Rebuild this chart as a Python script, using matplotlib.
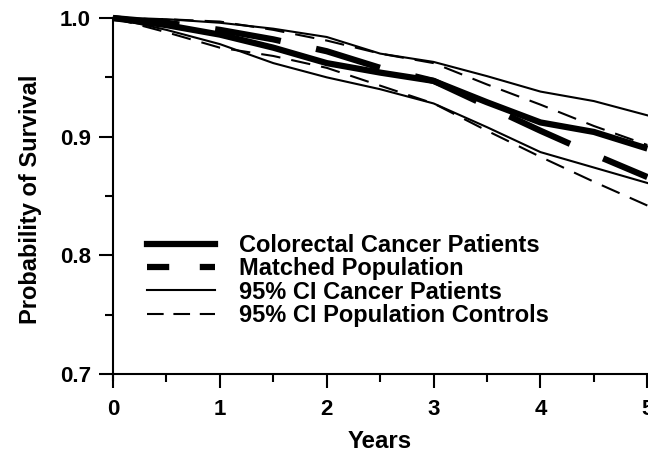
import matplotlib
matplotlib.use("Agg")
import matplotlib.pyplot as plt
from matplotlib.lines import Line2D
from matplotlib.ticker import MultipleLocator

plt.rcParams['font.family'] = ['Liberation Sans', 'DejaVu Sans']
plt.rcParams['font.weight'] = 'bold'
plt.rcParams['lines.scale_dashes'] = False

years = [0, 0.5, 1, 1.5, 2, 2.5, 3, 3.5, 4, 4.5, 5]
cancer = [1.0, 0.994, 0.986, 0.975, 0.962, 0.954, 0.947, 0.929, 0.912, 0.904, 0.890]
matched = [1.0, 0.996, 0.990, 0.982, 0.972, 0.958, 0.947, 0.926, 0.905, 0.885, 0.866]
ci_cancer_upper = [1.0, 0.999, 0.996, 0.991, 0.984, 0.970, 0.963, 0.951, 0.938, 0.930, 0.918]
ci_cancer_lower = [1.0, 0.990, 0.978, 0.962, 0.950, 0.940, 0.928, 0.908, 0.887, 0.874, 0.861]
ci_pop_upper = [1.0, 0.999, 0.997, 0.990, 0.981, 0.970, 0.962, 0.944, 0.927, 0.909, 0.893]
ci_pop_lower = [1.0, 0.988, 0.975, 0.968, 0.958, 0.943, 0.928, 0.905, 0.883, 0.862, 0.842]

labels = ["Colorectal Cancer Patients", "Matched Population",
          "95% CI Cancer Patients", "95% CI Population Controls"]

fig = plt.figure(figsize=(6.48, 4.57), dpi=100)
ax = fig.add_axes([0.1744, 0.1685, 0.8246, 0.7921])

thick = 4.5
thin = 1.5
ax.plot(years, ci_cancer_upper, color='black', lw=thin, clip_on=False)
ax.plot(years, ci_cancer_lower, color='black', lw=thin, clip_on=False)
ax.plot(years, ci_pop_upper, color='black', lw=thin, dashes=(14, 8), clip_on=False)
ax.plot(years, ci_pop_lower, color='black', lw=thin, dashes=(14, 8), clip_on=False)
ax.plot(years, cancer, color='black', lw=thick, clip_on=False, solid_capstyle='butt')
ax.plot(years, matched, color='black', lw=thick, dashes=(48, 26), clip_on=False,
        dash_capstyle='butt')

handles = [
    Line2D([], [], color='black', lw=thick),
    Line2D([], [], color='black', lw=thick, dashes=(16, 22), dash_capstyle='butt'),
    Line2D([], [], color='black', lw=thin),
    Line2D([], [], color='black', lw=thin, dashes=(12, 7)),
]
ax.legend(handles, labels, loc='upper left', bbox_to_anchor=(0.045, 0.43),
          frameon=False, fontsize=17.0, handlelength=2.9, handletextpad=1.0,
          labelspacing=0.02, borderaxespad=0)

ax.set_xlim(0, 5)
ax.set_ylim(0.695, 1.0)
ax.spines['bottom'].set_position(('data', 0.7))
ax.spines['top'].set_visible(False)
ax.spines['right'].set_visible(False)
for s in ('left', 'bottom'):
    ax.spines[s].set_linewidth(1.5)

ax.xaxis.set_major_locator(MultipleLocator(1))
ax.xaxis.set_minor_locator(MultipleLocator(0.5))
ax.set_yticks([0.7, 0.8, 0.9, 1.0])
ax.set_yticklabels(["0.7", "0.8", "0.9", "1.0"])
ax.yaxis.set_minor_locator(MultipleLocator(0.05))
ax.tick_params(which='major', direction='out', length=10, width=1.5, labelsize=16, pad=6)
ax.tick_params(axis='x', which='major', pad=8)
ax.tick_params(which='minor', direction='out', length=6, width=1.5)

ax.set_xlabel("Years", fontsize=17.3, fontweight='bold', labelpad=7)
ax.set_ylabel("Probability of Survival", fontsize=17, fontweight='bold', labelpad=13)

fig.savefig("out.png", dpi=100)
